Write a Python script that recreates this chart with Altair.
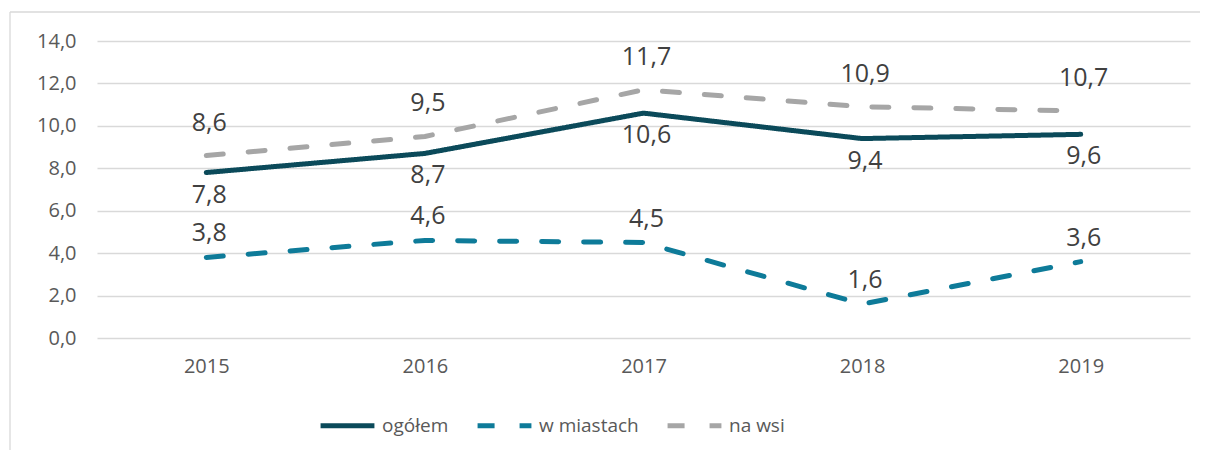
import altair as alt
import pandas as pd

years = ["2015", "2016", "2017", "2018", "2019"]
series_names = ["ogółem", "w miastach", "na wsi"]
ogolem = [7.8, 8.7, 10.6, 9.4, 9.6]
w_miastach = [3.8, 4.6, 4.5, 1.6, 3.6]
na_wsi = [8.6, 9.5, 11.7, 10.9, 10.7]
y_ticks = [0, 2, 4, 6, 8, 10, 12, 14]

colors = ["#0b4a5a", "#0e7b99", "#a6a6a6"]
dashes = [[1, 0], [17, 25], [17, 25]]

rows = []
for name, vals in zip(series_names, [ogolem, w_miastach, na_wsi]):
    for yr, v in zip(years, vals):
        rows.append({"rok": yr, "seria": name, "wartosc": v})
df = pd.DataFrame(rows)

FONT = "Open Sans"
W, H = 1093, 297

x_enc = alt.X(
    "rok:O",
    scale=alt.Scale(type="point", padding=0.5),
    axis=alt.Axis(
        title=None, labelAngle=0, domain=False, ticks=False, grid=False,
        labelFontSize=20, labelFont=FONT, labelColor="#595959", labelPadding=18,
    ),
)
y_enc = alt.Y(
    "wartosc:Q",
    scale=alt.Scale(domain=[0, 14], nice=False),
    axis=alt.Axis(
        title=None, values=y_ticks, domain=False, ticks=False,
        grid=True, gridColor="#d9d9d9", gridWidth=1.3,
        labelFontSize=20, labelFont=FONT, labelColor="#595959", labelPadding=21,
        labelExpr="replace(format(datum.value, '.1f'), '.', ',')",
    ),
)

legend = alt.Legend(
    title=None, orient="none", direction="horizontal",
    legendX=221, legendY=355,
    symbolType="stroke", symbolSize=2900, symbolStrokeWidth=5,
    labelFontSize=19, labelFont=FONT, labelColor="#595959",
    labelOffset=5, columnPadding=18, padding=0,
)

lines = alt.Chart(df).mark_line(strokeWidth=5, strokeCap="round", strokeJoin="round").encode(
    x=x_enc,
    y=y_enc,
    color=alt.Color("seria:N", scale=alt.Scale(domain=series_names, range=colors), legend=legend),
    strokeDash=alt.StrokeDash("seria:N", scale=alt.Scale(domain=series_names, range=dashes), legend=legend),
    order=alt.Order("rok:O"),
)

lab_base = alt.Chart(df).transform_calculate(
    lab="replace(format(datum.wartosc, '.1f'), '.', ',')"
)

def labels(name, dy):
    return lab_base.transform_filter(alt.datum.seria == name).mark_text(
        dy=dy, dx=3, fontSize=25, font=FONT, color="#404040"
    ).encode(x=x_enc, y=y_enc, text="lab:N")

edge = alt.Chart(pd.DataFrame({"k": [0]}))
frame_top = edge.mark_rule(color="#d9d9d9", strokeWidth=1.3).encode(
    x=alt.value(-87), x2=alt.value(1300), y=alt.value(-29)
)
frame_left = edge.mark_rule(color="#d9d9d9", strokeWidth=1.3).encode(
    x=alt.value(-87), y=alt.value(-29), y2=alt.value(600)
)

chart = alt.layer(
    frame_top,
    frame_left,
    lines,
    labels("na wsi", -33),
    labels("ogółem", 22),
    labels("w miastach", -24),
).properties(
    width=W, height=H,
    autosize=alt.AutoSizeParams(type="none"),
    padding={"left": 89, "top": 33, "right": 10, "bottom": 112},
    background="white",
).configure_view(stroke=None)

chart.save("out.html", embed_options={"renderer": "svg", "actions": False})
